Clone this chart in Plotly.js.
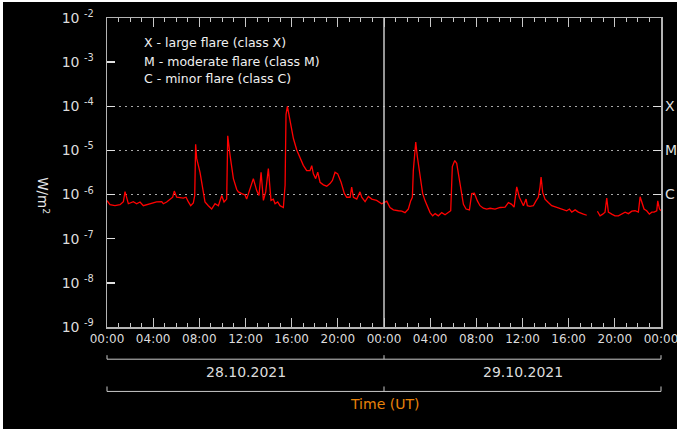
<!DOCTYPE html>
<html>
<head>
<meta charset="utf-8">
<script src="https://cdn.plot.ly/plotly-3.0.1.min.js"></script>
<style>
  html, body { margin: 0; padding: 0; background: #ffffff; }
  #chart { position: absolute; left: 3px; top: 2px; width: 674px; height: 427px; }
</style>
</head>
<body>
<div id="chart"></div>
<script>
// Hours since 28.10.2021 00:00 UT
const hours = [
  0.00, 0.26, 0.69, 1.13, 1.42, 1.56, 1.85, 2.28, 2.57, 2.86, 3.15, 3.73, 4.30, 4.74, 4.88,
  5.17, 5.46, 5.69, 5.83, 6.04, 6.61, 6.85, 7.05, 7.25, 7.48, 7.60, 7.68, 7.77, 8.06, 8.20,
  8.35, 8.49, 8.78, 9.07, 9.36, 9.65, 9.94, 10.14, 10.37, 10.46, 10.66, 10.95, 11.24, 11.38,
  11.67, 11.96, 12.10, 12.31, 12.54, 12.68, 12.97, 13.17, 13.35, 13.55, 13.75, 13.98, 14.21,
  14.41, 14.56, 14.79, 14.99, 15.28, 15.43, 15.51, 15.63, 15.86, 16.15, 16.44, 16.72, 17.01,
  17.30, 17.59, 17.74, 17.88, 18.08, 18.26, 18.46, 18.75, 19.04, 19.32, 19.53, 19.76, 19.99,
  20.28, 20.57, 20.77, 21.06, 21.20, 21.35, 21.64, 21.92, 22.07, 22.36, 22.65, 22.94, 23.36,
  23.80, 24.04, 24.24, 24.52, 24.81, 25.25, 25.54, 25.82, 26.11, 26.31, 26.46, 26.54, 26.75,
  26.89, 27.12, 27.35, 27.56, 27.76, 27.99, 28.22, 28.43, 28.71, 29.00, 29.29, 29.58, 29.78,
  29.92, 30.13, 30.30, 30.59, 30.88, 31.11, 31.40, 31.60, 31.83, 32.09, 32.32, 32.61, 32.90,
  33.19, 33.62, 34.06, 34.49, 34.78, 35.06, 35.27, 35.50, 35.73, 35.93, 36.08, 36.31, 36.42,
  36.65, 36.94, 37.17, 37.37, 37.52, 37.61, 37.75, 37.95, 38.24, 38.53, 38.97, 39.40, 39.83,
  40.07, 40.27, 40.56, 40.84, 41.28, 41.57, 41.90, 42.49, 42.72, 42.95, 43.15, 43.30, 43.44,
  43.73, 44.02, 44.31, 44.60, 44.89, 45.18, 45.47, 45.75, 46.04, 46.19, 46.33, 46.53, 46.76,
  46.99, 47.20, 47.40, 47.63, 47.72, 47.87, 48.00
];
// X-ray flux, W/m^2 (null = data gap)
const flux = [
  7.3e-7, 5.9e-7, 5.6e-7, 5.9e-7, 6.9e-7, 1.17e-6, 6.2e-7, 6.9e-7, 6.2e-7, 6.8e-7, 5.6e-7, 6.2e-7, 6.8e-7, 6.9e-7, 6.2e-7,
  6.8e-7, 7.9e-7, 8.7e-7, 1.2e-6, 8.7e-7, 8.3e-7, 8.7e-7, 6.8e-7, 5.6e-7, 6.5e-7, 9.5e-7, 1.38e-5, 6.6e-6, 3.2e-6, 1.9e-6,
  9.5e-7, 6.8e-7, 5.6e-7, 4.7e-7, 6.2e-7, 5.6e-7, 9.5e-7, 6.8e-7, 7.9e-7, 2.14e-5, 7.8e-6, 2.3e-6, 1.3e-6, 1.15e-6,
  1.05e-6, 9.8e-7, 7.9e-7, 1.15e-6, 1.9e-6, 2.3e-6, 1.23e-6, 9.5e-7, 3.2e-6, 7.4e-7, 1.15e-6, 3.9e-6, 7.4e-7,
  7.9e-7, 6.2e-7, 6.8e-7, 5.6e-7, 5.1e-7, 1.62e-6, 6.5e-5, 1.0e-4, 4.5e-5, 1.86e-5, 1.02e-5, 6.6e-6, 4.6e-6,
  3.5e-6, 3.5e-6, 4.5e-6, 2.95e-6, 2.3e-6, 3.2e-6, 1.9e-6, 1.66e-6, 1.55e-6, 1.78e-6, 2.1e-6, 3.2e-6, 2.95e-6,
  1.9e-6, 1.05e-6, 8.7e-7, 8.7e-7, 1.48e-6, 8.7e-7, 7.9e-7, 1.15e-6, 8.7e-7, 6.9e-7, 9.1e-7, 7.9e-7, 7.4e-7,
  6.2e-7, 6.6e-7, 7.1e-7, 5.1e-7, 4.5e-7, 4.3e-7, 4.2e-7, 3.9e-7, 4.7e-7, 7.2e-7, 8.7e-7, 3.5e-6, 1.55e-5,
  7.2e-6, 2.5e-6, 1.05e-6, 7.2e-7, 5.6e-7, 3.9e-7, 3.3e-7, 3.7e-7, 3.3e-7, 3.9e-7, 3.5e-7, 3.9e-7, 4.3e-7,
  4.3e-6, 5.9e-6, 5.1e-6, 1.78e-6, 6.0e-7, 4.7e-7, 4.5e-7, 1.05e-6, 1.07e-6, 7.2e-7, 5.6e-7, 4.9e-7, 4.7e-7,
  4.9e-7, 4.7e-7, 5.1e-7, 5.2e-7, 6.6e-7, 6.0e-7, 5.2e-7, 1.5e-6, 8.7e-7, 6.6e-7, 5.6e-7, 7.9e-7, 5.6e-7,
  5.4e-7, 5.6e-7, 7.2e-7, 8.7e-7, 1.48e-6, 2.5e-6, 1.12e-6, 7.9e-7, 6.6e-7, 5.6e-7, 5.1e-7, 4.7e-7, 4.3e-7,
  4.7e-7, 4.0e-7, 4.5e-7, 4.0e-7, 3.6e-7, 3.4e-7, null, 4.2e-7, 3.3e-7, 3.6e-7, 4.0e-7, 8.3e-7, 4.0e-7,
  3.6e-7, 3.3e-7, 3.3e-7, 3.6e-7, 4.0e-7, 3.7e-7, 4.2e-7, 4.3e-7, 4.0e-7, 8.9e-7, 6.6e-7, 4.7e-7, 4.3e-7,
  3.6e-7, 4.0e-7, 4.0e-7, 4.3e-7, 7.2e-7, 4.7e-7, 4.3e-7
];

const hourTicks = [0, 4, 8, 12, 16, 20, 24, 28, 32, 36, 40, 44, 48];
const hourTickLabels = ["00:00","04:00","08:00","12:00","16:00","20:00","00:00","04:00","08:00","12:00","16:00","20:00","00:00"];
const decadeTicks = [1e-9, 1e-8, 1e-7, 1e-6, 1e-5, 1e-4, 1e-3, 1e-2];
const decadeLabels = ["10 <sup>-9</sup>","10 <sup>-8</sup>","10 <sup>-7</sup>","10 <sup>-6</sup>","10 <sup>-5</sup>","10 <sup>-4</sup>","10 <sup>-3</sup>","10 <sup>-2</sup>"];
const classLevels = [1e-6, 1e-5, 1e-4];
const classLabels = ["C", "M", "X"];
const dayLabels = ["28.10.2021", "29.10.2021"];
const dayCenters = [12, 36];
const dayBounds = [0, 24, 48];
const legendLines = ["X - large flare (class X)", "M - moderate flare (class M)", "C - minor flare (class C)"];

const FONT = "DejaVu Sans, Verdana, sans-serif";
const xRange = [0, 48];
const toPaperX = h => (h - xRange[0]) / (xRange[1] - xRange[0]);

const shapes = [];
// midnight separator inside plot
shapes.push({type: "line", xref: "paper", yref: "paper", x0: toPaperX(dayBounds[1]), x1: toPaperX(dayBounds[1]), y0: 0, y1: 1,
  line: {color: "#c8c8c8", width: 1.5}, layer: "above"});
// date brackets under the axis
const bracketRows = [{y: -0.1042, tick: 0.013}, {y: -0.2085, tick: 0.016}];
bracketRows.forEach(r => {
  shapes.push({type: "line", xref: "paper", yref: "paper", x0: 0, x1: 1, y0: r.y, y1: r.y, line: {color: "#c8c8c8", width: 1}});
  dayBounds.forEach(b => {
    shapes.push({type: "line", xref: "paper", yref: "paper", x0: toPaperX(b), x1: toPaperX(b), y0: r.y, y1: r.y + r.tick,
      line: {color: "#c8c8c8", width: 1}});
  });
});

const annotations = [];
dayLabels.forEach((d, i) => {
  annotations.push({text: d, xref: "x", yref: "paper", x: dayCenters[i], y: -0.1466, xanchor: "center", yanchor: "middle",
    showarrow: false, font: {family: FONT, size: 14, color: "#dcdcdc"}});
});
const legendY = [0.920, 0.860, 0.803];
legendLines.forEach((t, i) => {
  annotations.push({text: t, xref: "paper", yref: "paper", x: 0.064, y: legendY[i], xanchor: "left", yanchor: "middle",
    showarrow: false, font: {family: FONT, size: 12.5, color: "#f0f0f0"}});
});
annotations.push({text: "W/m<sup>2</sup>", xref: "paper", yref: "paper", x: -0.1155, y: 0.4267, xanchor: "center", yanchor: "middle",
  textangle: 90, showarrow: false, font: {family: FONT, size: 13.5, color: "#e6e6e6"}});
annotations.push({text: "Time (UT)", xref: "x", yref: "paper", x: dayBounds[1], y: -0.2508, xanchor: "center", yanchor: "middle",
  showarrow: false, font: {family: FONT, size: 14, color: "#e8820a"}});

const data = [
  {
    type: "scatter", mode: "lines", x: hours, y: flux, connectgaps: false,
    line: {color: "#ff0000", width: 1.3}, hoverinfo: "x+y", showlegend: false
  },
  {
    // same series bound to the flare-class axis so that axis is drawn (invisible)
    type: "scatter", mode: "lines", x: hours, y: flux, yaxis: "y2", connectgaps: false,
    line: {color: "rgba(0,0,0,0)", width: 0}, opacity: 0, hoverinfo: "skip", showlegend: false
  }
];

const layout = {
  width: 674, height: 427,
  margin: {l: 104, r: 16, t: 16, b: 102},
  paper_bgcolor: "#000000", plot_bgcolor: "#000000",
  font: {family: FONT, color: "#dcdcdc"},
  showlegend: false,
  xaxis: {
    range: xRange, tickmode: "array", tickvals: hourTicks, ticktext: hourTickLabels,
    ticks: "inside", ticklen: 9, tickwidth: 1, tickcolor: "#c8c8c8",
    minor: {tickmode: "linear", tick0: 0, dtick: 1, ticks: "inside", ticklen: 4, tickcolor: "#c8c8c8", showgrid: false},
    showline: true, linecolor: "#b4b4b4", linewidth: 1.5, mirror: "ticks",
    showgrid: false, zeroline: false, ticklabeloverflow: "allow",
    tickfont: {family: FONT, size: 12, color: "#dcdcdc"}
  },
  yaxis: {
    type: "log", range: [-9, -2], tickmode: "array", tickvals: decadeTicks, ticktext: decadeLabels,
    ticks: "inside", ticklen: 8, tickwidth: 1.5, tickcolor: "#e0e0e0",
    showline: true, linecolor: "#b4b4b4", linewidth: 1.5, mirror: true,
    showgrid: false, zeroline: false, ticklabelstandoff: 9,
    tickfont: {family: FONT, size: 14, color: "#dcdcdc"}
  },
  yaxis2: {
    type: "log", range: [-9, -2], overlaying: "y", anchor: "x", side: "right",
    tickmode: "array", tickvals: classLevels, ticktext: classLabels,
    ticks: "inside", ticklen: 8, tickwidth: 1.5, tickcolor: "#e0e0e0",
    showline: false, showgrid: true, gridcolor: "#a8a8a8", griddash: "2px,4px", gridwidth: 1,
    zeroline: false, ticklabelstandoff: 3, ticklabeloverflow: "allow",
    tickfont: {family: FONT, size: 14, color: "#dcdcdc"}
  },
  shapes: shapes,
  annotations: annotations
};

Plotly.newPlot("chart", data, layout, {displayModeBar: false, staticPlot: true});
</script>
</body>
</html>
